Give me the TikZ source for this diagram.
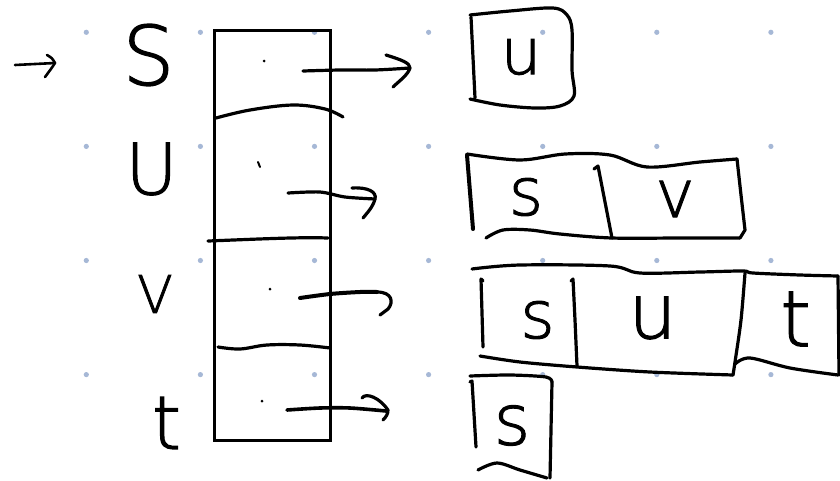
\documentclass[tikz,border=0pt]{standalone}
\usepackage{fontspec}
\newfontfamily\hand{DejaVu Sans ExtraLight}[RawFeature={embolden=1.5}]
\newcommand\handsize[1]{\hand\fontsize{#1}{#1}\selectfont}
\definecolor{gridblue}{RGB}{166,184,214}
\begin{document}
\begin{tikzpicture}[x=1pt,y=-1pt,
  ink/.style={line width=3.2pt,line cap=round,line join=round},
  lab/.style={inner sep=0pt,outer sep=0pt},
  celldot/.style={fill=black,circle,inner sep=0pt,minimum size=3pt}]
\useasboundingbox (0,0) rectangle (840,480);
\fill[white] (0,0) rectangle (840,480);
% grid dots
\foreach \i in {0,...,6}{\foreach \j in {0,...,3}{
  \fill[gridblue] ({86.3+114.1*\i},{32.3+114.1*\j}) circle (2.6);}}
% start arrow
\coordinate (in0) at (15,65);
\coordinate (in1) at (55,63);
\draw[line width=2.6pt,line cap=round,line join=round] (in0) -- (in1);
\draw[line width=2.6pt,line cap=round,line join=round] (47,55) .. controls (52,58) .. (in1) .. controls (51,69) .. (45,77);
% vertex labels
\node[lab,font=\handsize{82}] (ls) at (148.5,55) {S};
\node[lab,font=\handsize{71}] (lu) at (151.5,169) {U};
\node[lab,font=\handsize{52}] (lv) at (155,294) {V};
\node[lab,font=\handsize{74}] (lt) at (166.5,423) {t};
% array
\node[draw,line width=3pt,minimum width=116pt,minimum height=410pt,inner sep=0pt] (arr) at (272.2,235) {};
\draw[ink] plot[smooth,tension=0.6] coordinates {(216,118) (250,110) (293,105) (325,109) (343,117)};
\draw[ink] (208,241) .. controls (260,239) and (300,237) .. (328,238);
\draw[ink] plot[smooth,tension=0.6] coordinates {(218,347) (240,349) (267,345) (300,345) (330,348)};
% cell dots
\node[celldot] (c1) at (264,61) {};
\draw[line width=2pt,line cap=round] (258,162) -- (260,167);
\coordinate (c2) at (259,164);
\node[celldot] (c3) at (270,289) {};
\node[celldot] (c4) at (262,401) {};
% arrows
\coordinate (a1s) at (303,71); \coordinate (a1e) at (410,68);
\draw[ink] plot[smooth] coordinates {(a1s) (340,70) (375,70) (a1e)};
\draw[ink] (386,55) .. controls (402,60) and (410,63) .. (a1e) .. controls (408,75) and (398,82) .. (393,87);
\coordinate (a2s) at (288,193); \coordinate (a2e) at (375,199);
\draw[ink] plot[smooth] coordinates {(a2s) (320,192) (345,197) (a2e)};
\draw[ink] (352,188) .. controls (368,187) and (377,192) .. (a2e) .. controls (373,207) and (367,213) .. (363,218);
\coordinate (a3s) at (300,298); \coordinate (a3e) at (377,292);
\draw[ink,line width=4pt] plot[smooth] coordinates {(a3s) (330,294) (360,292) (a3e)};
\draw[ink] (a3e) .. controls (392,292) and (394,302) .. (388,309) -- (380,315);
\coordinate (a4s) at (287,410); \coordinate (a4e) at (386,411);
\draw[ink,line width=3.6pt] plot[smooth] coordinates {(a4s) (320,408) (350,408) (a4e)};
\draw[ink] (362,398) .. controls (366,392) and (380,398) .. (388,410) .. controls (388,414) and (386,417) .. (383,420);
% box u
\draw[ink] (471,17) -- (475,98);
\draw[ink] plot[smooth,tension=0.55] coordinates {(470,15) (510,11) (553,8) (567,15) (572,30) (572,70) (574,96) (560,106) (535,108) (500,105) (470,99)};
\node[lab,font=\handsize{64}] (b1u) at (521,57) {u};
% box s | v
\draw[ink,line width=4pt] (467,155) -- (473,229);
\draw[ink] plot[smooth,tension=0.55] coordinates {(467,154) (520,160) (565,154) (610,155) (647,167) (700,162) (737,159)};
\draw[ink] (737,159) -- (741,195) -- (745,230) -- (740,238);
\draw[ink] plot[smooth,tension=0.55] coordinates {(486,238) (503,230) (530,230) (560,234) (612,238) (680,238) (740,238)};
\draw[ink] (594,169) -- (598,166) -- (612,238);
\node[lab,font=\handsize{66}] (b2s) at (526,197) {s};
\node[lab,font=\handsize{66}] (b2v) at (675,199) {v};
% box s | u | t
\draw[ink] plot[smooth,tension=0.55] coordinates {(472,269) (520,265) (610,266) (640,273) (700,272) (743,271) (753,273) (800,275) (838,276)};
\draw[ink] (838,276) -- (839,375);
\draw[ink] plot[smooth,tension=0.55] coordinates {(735,364) (750,358) (790,368) (838,375)};
\draw[ink] plot[smooth] coordinates {(745,273) (741,320) (735,362) (733,375)};
\draw[ink] plot[smooth,tension=0.5] coordinates {(480,356) (520,362) (577,367) (650,372) (733,375)};
\draw[ink] (483,281) -- (481,279) -- (483,347);
\draw[ink] (571,281) -- (573,279) -- (575,320) -- (577,366);
\node[lab,font=\handsize{66}] (b3s) at (537.5,320) {s};
\node[lab,font=\handsize{76}] (b3u) at (652.5,318) {u};
\node[lab,font=\handsize{78}] (b3t) at (795.5,319) {t};
% box s
\draw[ink] plot[smooth,tension=0.5] coordinates {(470,376) (510,375) (546,377) (552,382)};
\draw[ink] (552,382) -- (551,430) -- (550,478);
\draw[ink] (470,382) -- (472,381) -- (476,447);
\draw[ink] plot[smooth,tension=0.55] coordinates {(478,470) (497,463) (520,470) (547,478)};
\node[lab,font=\handsize{70}] (b4s) at (512,425.5) {s};
\end{tikzpicture}
\end{document}
